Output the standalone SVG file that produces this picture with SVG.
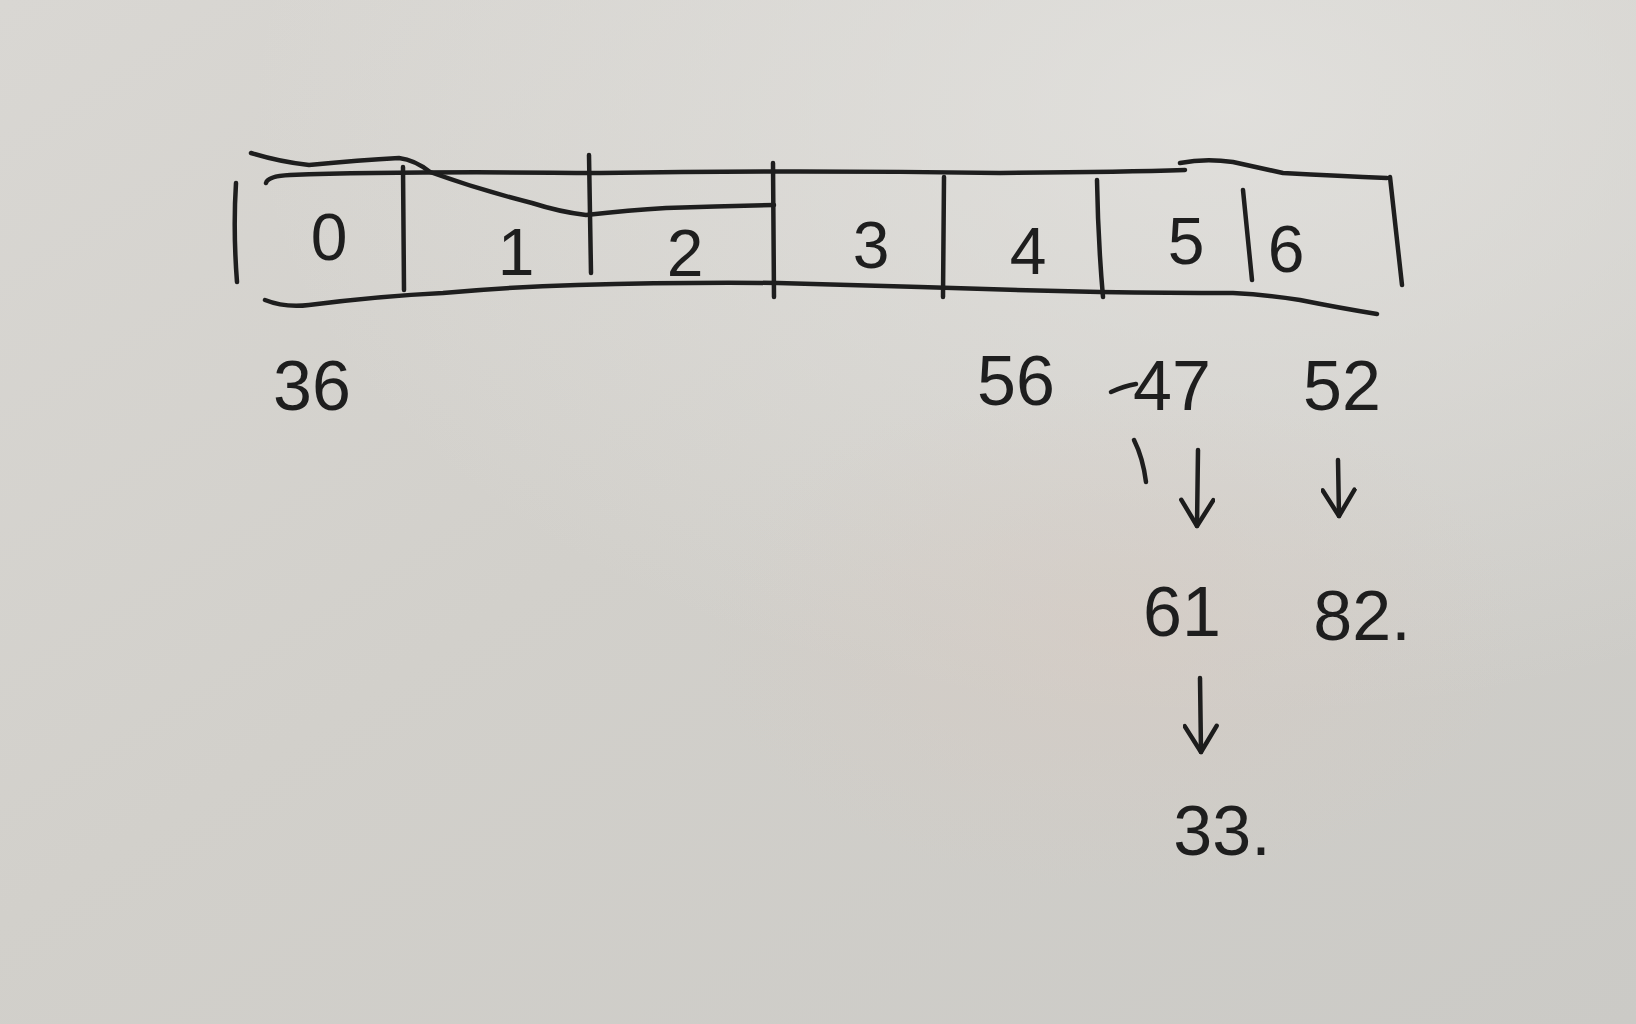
<svg xmlns="http://www.w3.org/2000/svg" width="1636" height="1024" viewBox="0 0 1636 1024">
<defs>
<linearGradient id="paper" x1="0" y1="0" x2="1" y2="1">
<stop offset="0" stop-color="#d9d7d3"/>
<stop offset="0.45" stop-color="#d2d0cb"/>
<stop offset="1" stop-color="#cbcac6"/>
</linearGradient>
<radialGradient id="glow" cx="0.75" cy="0.1" r="0.6">
<stop offset="0" stop-color="#e4e3e0" stop-opacity="0.8"/>
<stop offset="1" stop-color="#e4e3e0" stop-opacity="0"/>
</radialGradient>
<radialGradient id="warm" cx="0.68" cy="0.62" r="0.25">
<stop offset="0" stop-color="#d6cbc3" stop-opacity="0.6"/>
<stop offset="1" stop-color="#d6cbc3" stop-opacity="0"/>
</radialGradient>
<marker id="head" viewBox="0 0 36 36" refX="32" refY="18" markerWidth="36" markerHeight="36" markerUnits="userSpaceOnUse" orient="auto">
<path d="M6 2 L32 18 L6 34" fill="none" stroke="#1c1c1c" stroke-width="4.5" stroke-linecap="round" stroke-linejoin="round"/>
</marker>
<style>
.ink{fill:none;stroke:#1e1e1e;stroke-width:4.5;stroke-linecap:round;stroke-linejoin:round}
.t{font-family:"Liberation Sans","DejaVu Sans",sans-serif;fill:#1e1e1e;text-anchor:middle}
.cell{font-size:66px}
.val{font-size:70px}
.arr{fill:none;stroke:#1e1e1e;stroke-width:4.5;stroke-linecap:round;marker-end:url(#head)}
</style>
</defs>
<rect width="1636" height="1024" fill="url(#paper)"/>
<rect width="1636" height="1024" fill="url(#glow)"/>
<rect width="1636" height="1024" fill="url(#warm)"/>

<g id="array">
<path class="ink" d="M236 183 Q233 230 237 282"/>
<path class="ink" d="M251 153 Q280 162 309 165 Q360 160 399 158 Q415 160 430 172 Q480 190 532 203 Q560 212 586 215 Q630 210 666 208 Q720 206 774 205"/>
<path class="ink" d="M266 183 Q268 176 290 175 Q400 171 600 173 Q800 170 1000 173 Q1120 172 1185 170"/>
<path class="ink" d="M1180 163 Q1205 158 1233 162 Q1260 168 1283 173 Q1340 176 1387 178"/>
<path class="ink" d="M265 300 Q285 308 309 305 Q380 296 443 293 Q510 287 577 285 Q680 282 778 283 Q850 285 920 287 Q1010 290 1100 292 Q1170 293 1233 293 Q1270 295 1300 300 Q1340 308 1377 314"/>
<path class="ink" d="M403 167 L404 290"/>
<path class="ink" d="M589 155 L591 273"/>
<path class="ink" d="M773 163 L774 297"/>
<path class="ink" d="M944 177 L943 297"/>
<path class="ink" d="M1097 180 Q1098 240 1103 297"/>
<path class="ink" d="M1243 190 L1252 280"/>
<path class="ink" d="M1390 177 L1402 285"/>
</g>

<g id="cells">
<text class="t cell" x="329" y="260">0</text>
<text class="t cell" x="516" y="275" font-size="44">1</text>
<text class="t cell" x="685" y="276">2</text>
<text class="t cell" x="871" y="268">3</text>
<text class="t cell" x="1028" y="274">4</text>
<text class="t cell" x="1186" y="264">5</text>
<text class="t cell" x="1286" y="272">6</text>
</g>

<g id="n36"><text class="t val" x="312" y="410">36</text></g>
<g id="n56"><text class="t val" x="1016" y="405">56</text></g>
<g id="n47">
<text class="t val" x="1172" y="410">47</text>
<path class="ink" d="M1111 392 Q1124 386 1136 384"/>
<path class="ink" d="M1134 440 Q1143 458 1146 482" stroke-width="3"/>
</g>
<g id="n52"><text class="t val" x="1342" y="410">52</text></g>
<g id="n61"><text class="t val" x="1182" y="636">61</text></g>
<g id="n82"><text class="t val" x="1362" y="640">82.</text></g>
<g id="n33"><text class="t val" x="1222" y="855">33.</text></g>

<g id="connectors">
<path class="arr" d="M1198 450 L1197 526"/>
<path class="arr" d="M1338 460 L1339 516"/>
<path class="arr" d="M1200 678 L1201 752"/>
</g>
</svg>
